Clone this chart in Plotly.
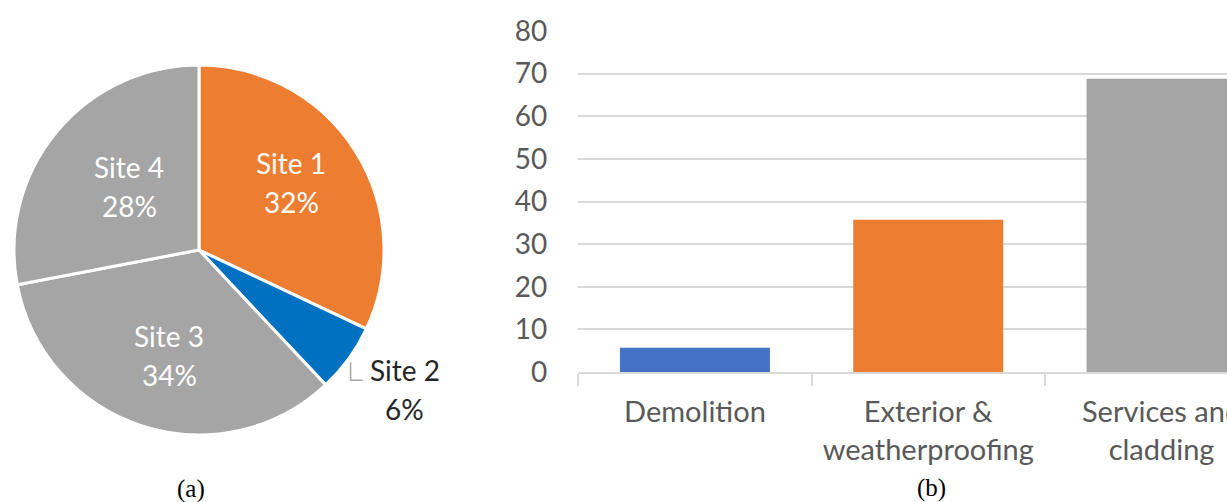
import math
import plotly.graph_objects as go

# ---------------- data ----------------
sites = ["Site 1", "Site 2", "Site 3", "Site 4"]
site_pct = [32, 6, 34, 28]
stages = ["Demolition", "Exterior &<br>weatherproofing", "Services and<br>cladding"]
stage_values = [5.7, 35.7, 68.8]
y_tick_vals = [0, 10, 20, 30, 40, 50, 60, 70, 80]
captions = ["(a)", "(b)"]

# ---------------- styles / layout constants ----------------
W, H = 1227, 502
pie_colors = ["#ED7D31", "#0070C0", "#A5A5A5", "#A5A5A5"]
bar_colors = ["#4472C4", "#ED7D31", "#A5A5A5"]
label_colors = ["#FFFFFF", "#262626", "#FFFFFF", "#FFFFFF"]
label_radius = [0.616, 1.342, 0.594, 0.508]      # fraction of pie radius
label_angle_shift = [-3.7, -1.9, -2.4, 2.7]       # degrees from slice bisector
LINE_HALF = 19.5
FONT = "Lato"
PIE_CX, PIE_CY, PIE_R = 199, 250, 185
X0, CAT_W, BAR_W = 578.3, 233.3, 150
Y0, Y80 = 372, 31


def px(x):
    return x / W


def py(y):
    return 1 - y / H


fig = go.Figure()

fig.add_trace(go.Pie(
    labels=sites, values=site_pct, sort=False, direction="clockwise",
    rotation=0, textinfo="none", hoverinfo="label+percent",
    marker=dict(colors=pie_colors, line=dict(color="white", width=3)),
    domain=dict(x=[px(PIE_CX - PIE_R), px(PIE_CX + PIE_R)],
                y=[py(PIE_CY + PIE_R), py(PIE_CY - PIE_R)]),
    showlegend=False,
))

fig.add_trace(go.Bar(
    x=stages, y=stage_values, marker=dict(color=bar_colors, line=dict(width=0)),
    showlegend=False, xaxis="x", yaxis="y",
))

annotations = []
shapes = []
total = sum(site_pct)
cum = 0
for i, (name, pct) in enumerate(zip(sites, site_pct)):
    mid = 2 * math.pi * (cum + pct / 2) / total + math.radians(label_angle_shift[i])
    cum += pct
    r = label_radius[i] * PIE_R
    lx = PIE_CX + r * math.sin(mid)
    ly = PIE_CY - r * math.cos(mid)
    for txt, dy in ((name, -LINE_HALF), (f"{pct}%", LINE_HALF)):
        annotations.append(dict(
            x=px(lx), y=py(ly + dy), xref="paper", yref="paper",
            text=txt, showarrow=False,
            xanchor="center", yanchor="middle",
            font=dict(family=FONT, size=28, color=label_colors[i]),
        ))
    if label_radius[i] > 1:
        shapes.append(dict(
            type="path", xref="paper", yref="paper",
            path=(f"M {px(lx - 54)} {py(ly - 27)} L {px(lx - 54)} {py(ly - 9)} "
                  f"L {px(lx - 42)} {py(ly - 9)}"),
            line=dict(color="#A6A6A6", width=1.5),
        ))

annotations.append(dict(x=px(191), y=py(489), xref="paper", yref="paper",
                        text=captions[0], showarrow=False, xanchor="center", yanchor="middle",
                        font=dict(family="Liberation Serif", size=25, color="black")))
annotations.append(dict(x=px(932), y=py(488), xref="paper", yref="paper",
                        text=captions[1], showarrow=False, xanchor="center", yanchor="middle",
                        font=dict(family="Liberation Serif", size=25, color="black")))

fig.update_layout(
    width=W, height=H, margin=dict(l=0, r=0, t=0, b=0, autoexpand=False),
    paper_bgcolor="white", plot_bgcolor="white",
    bargap=1 - BAR_W / CAT_W,
    xaxis=dict(
        domain=[px(X0), 1], range=[-0.5, -0.5 + (W - X0) / CAT_W],
        type="category", tickson="boundaries", ticks="outside", ticklen=12,
        tickcolor="#D9D9D9", tickwidth=1.5, showgrid=False,
        showline=True, linecolor="#D9D9D9", linewidth=2,
        tickfont=dict(family=FONT, size=29, color="#595959"),
        ticklabelstandoff=13, fixedrange=True, automargin=False,
    ),
    yaxis=dict(
        domain=[py(Y0), py(Y80)], range=[0, 80], tickvals=y_tick_vals,
        ticks="", showgrid=True, gridcolor="#D9D9D9", gridwidth=1.5,
        zeroline=False, showline=False, ticklabelstandoff=30,
        tickfont=dict(family=FONT, size=28, color="#595959"),
        fixedrange=True, automargin=False,
    ),
    annotations=annotations, shapes=shapes,
)

fig.write_html(
    "out.html",
    config={"displayModeBar": False},
    post_script="document.body.style.margin='0px';document.body.style.overflow='hidden';",
)
